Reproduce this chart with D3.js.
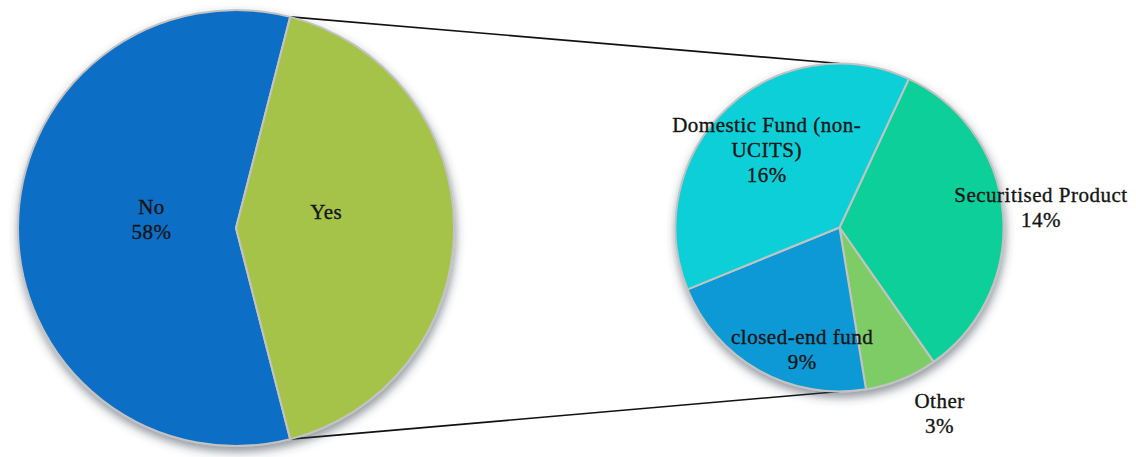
<!DOCTYPE html>
<html>
<head>
<meta charset="utf-8">
<script src="https://cdn.jsdelivr.net/npm/d3@7"></script>
<style>
  html, body { margin: 0; padding: 0; background: #ffffff; }
  svg { display: block; }
  text { font-family: "Liberation Serif", "DejaVu Serif", serif; fill: #151515; stroke: #151515; stroke-width: 0.35px; }
</style>
</head>
<body>
<svg id="chart" width="1136" height="457"></svg>
<script>
// Main split: does the fund hold the product?
const mainCategories = ["No", "Yes"];
const mainValues = [58, 42];
const mainLabels = ["No\n58%", "Yes"];

// Breakdown of the "Yes" share
const subCategories = ["Securitised Product", "Other", "closed-end fund", "Domestic Fund (non-UCITS)"];
const subValues = [14, 3, 9, 16];
const subLabels = ["Securitised Product\n14%", "Other\n3%", "closed-end fund\n9%", "Domestic Fund (non-\nUCITS)\n16%"];

const mainColors = ["#116ec6", "#a6c34a"];
const subColors = ["#11cf99", "#7dcc66", "#0899d6", "#0dcfd8"];

// Label placement: [radius factor, angle shift in degrees from the slice middle]
const mainLabelPlace = [[0.39, 6], [0.42, -10]];
const subLabelPlace = [[1.235, -0.8], [1.29, -6.1], [0.78, -12.3], [0.65, 0.5]];

const svg = d3.select("#chart");
const deg = Math.PI / 180;

const defs = svg.append("defs");
const shadow = defs.append("filter").attr("id", "pieShadow")
  .attr("x", "-20%").attr("y", "-20%").attr("width", "140%").attr("height", "140%");
shadow.append("feDropShadow")
  .attr("dx", 1).attr("dy", 5).attr("stdDeviation", 5)
  .attr("flood-color", "#34414c").attr("flood-opacity", 0.55);

const main = { cx: 236, cy: 228, r: 218 };
const sub = { cx: 839.5, cy: 227.5, r: 164 };

// Main pie: the "Yes" slice is centred on the right-hand side, facing the breakdown
const yesShare = mainValues[1] / d3.sum(mainValues);
const mainStart = Math.PI / 2 + yesShare * Math.PI;
const mainPie = d3.pie().sort(null).value(d => d)
  .startAngle(mainStart).endAngle(mainStart + 2 * Math.PI);
const mainArcs = mainPie(mainValues);

const subStart = 25 * deg;
const subPie = d3.pie().sort(null).value(d => d)
  .startAngle(subStart).endAngle(subStart + 2 * Math.PI);
const subArcs = subPie(subValues);

const pt = (c, a, rr) => [c.cx + rr * Math.sin(a), c.cy - rr * Math.cos(a)];

// Connector lines from the edges of the "Yes" slice to the top and bottom of the breakdown pie
const yesArc = mainArcs[1];
const lineData = [
  [pt(main, yesArc.startAngle, main.r), [sub.cx, sub.cy - sub.r]],
  [pt(main, yesArc.endAngle, main.r), [sub.cx, sub.cy + sub.r]]
];
svg.append("g").selectAll("line").data(lineData).join("line")
  .attr("x1", d => d[0][0]).attr("y1", d => d[0][1])
  .attr("x2", d => d[1][0]).attr("y2", d => d[1][1])
  .attr("stroke", "#111").attr("stroke-width", 1.6);

function drawPie(c, arcs, colors) {
  const arc = d3.arc().innerRadius(0).outerRadius(c.r);
  const g = svg.append("g").attr("transform", `translate(${c.cx},${c.cy})`);
  g.append("g").attr("filter", "url(#pieShadow)")
    .selectAll("path").data(arcs).join("path")
    .attr("d", arc)
    .attr("fill", (d, i) => colors[i])
    .attr("stroke", "#c3c3c3")
    .attr("stroke-width", 2)
    .attr("stroke-linejoin", "round");
  return g;
}

function drawLabels(g, c, arcs, labels, place) {
  const lh = 25;
  arcs.forEach((d, i) => {
    const mid = (d.startAngle + d.endAngle) / 2 + place[i][1] * deg;
    const rr = place[i][0] * c.r;
    const x = rr * Math.sin(mid), y = -rr * Math.cos(mid);
    const lines = labels[i].split("\n");
    const t = g.append("text")
      .attr("text-anchor", "middle")
      .attr("font-size", 21)
      .attr("letter-spacing", 0.5);
    lines.forEach((ln, k) => {
      t.append("tspan")
        .attr("x", x)
        .attr("y", y + (k - (lines.length - 1) / 2) * lh + 7)
        .text(ln);
    });
  });
}

const gMain = drawPie(main, mainArcs, mainColors);
const gSub = drawPie(sub, subArcs, subColors);
drawLabels(gMain, main, mainArcs, mainLabels, mainLabelPlace);
drawLabels(gSub, sub, subArcs, subLabels, subLabelPlace);
</script>
</body>
</html>
